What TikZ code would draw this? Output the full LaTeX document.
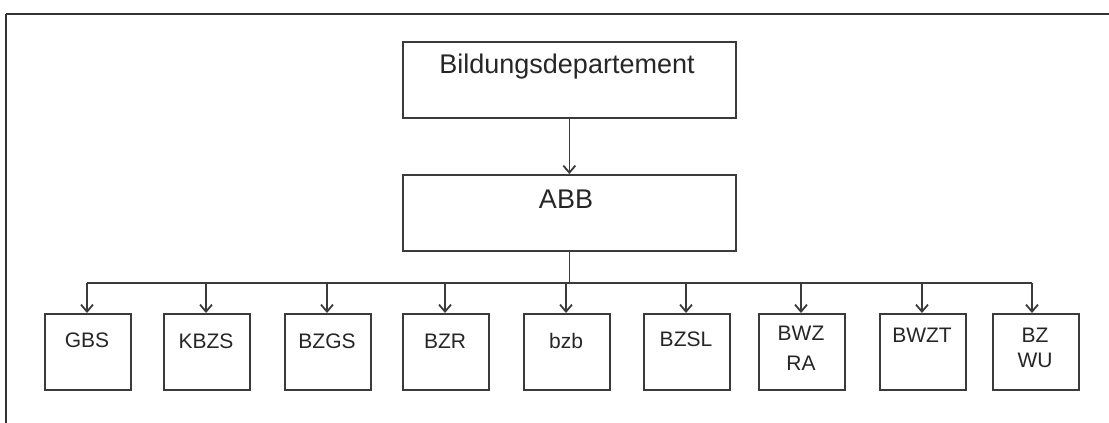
\documentclass[tikz,border=0pt]{standalone}
\usepackage{fontspec}
\setmainfont{Liberation Sans}
\usetikzlibrary{arrows.meta}
\definecolor{ink}{HTML}{3A3A3A}
\begin{document}
\begin{tikzpicture}[x=1pt,y=-1pt,
  box/.style={draw=ink,line width=1.7pt,inner sep=0pt,anchor=north west},
  bigbox/.style={box,minimum width=333pt,minimum height=76pt},
  smallbox/.style={box,minimum width=86pt,minimum height=76pt},
  conn/.style={draw=ink,line width=1.7pt},
  arr/.style={conn,-{Straight Barb[length=7pt,width=12pt,line width=1.8pt]}},
  frameline/.style={draw=black!80,line width=2pt},
  lab/.style={font=\fontsize{21}{30}\selectfont,anchor=base,inner sep=0pt,text=black!85}]
\useasboundingbox (0,0) rectangle (1109,423);
% frame (top and left edges)
\draw[frameline] (6,14) -- (1109,14);
\draw[frameline] (6,14) -- (6,423);
% top boxes
\node[bigbox] (dep) at (402,41) {};
\node[lab,font=\fontsize{27}{30}\selectfont] (deplabel) at (567,73) {Bildungsdepartement};
\node[bigbox] (abb) at (402,174) {};
\node[lab,font=\fontsize{27}{30}\selectfont] (abblabel) at (566,208) {ABB};
\draw[arr] (dep.south) -- (abb.north);
% bottom boxes
\node[smallbox] (gbs) at (44,313) {};
\node[smallbox] (kbzs) at (163,313) {};
\node[smallbox] (bzgs) at (284,313) {};
\node[smallbox] (bzr) at (402,313) {};
\node[smallbox] (bzb) at (523,313) {};
\node[smallbox] (bzsl) at (643,313) {};
\node[smallbox] (bwzra) at (758,313) {};
\node[smallbox] (bwzt) at (879,313) {};
\node[smallbox] (bzwu) at (992,313) {};
\node[lab] (gbsl) at (87,347) {GBS};
\node[lab] (kbzsl) at (206,348) {KBZS};
\node[lab] (bzgsl) at (327,348) {BZGS};
\node[lab] (bzrl) at (445,348) {BZR};
\node[lab] (bzbl) at (566,348) {bzb};
\node[lab] (bzsll) at (686,346) {BZSL};
\node[lab] (bwzl) at (801,340) {BWZ};
\node[lab] (ral) at (801,370) {RA};
\node[lab] (bwztl) at (922,342) {BWZT};
\node[lab] (bzl) at (1035,342) {BZ};
\node[lab] (wul) at (1035,367) {WU};
% bus
\coordinate (busL) at (87,283);
\coordinate (busR) at (1032,283);
\draw[conn] (abb.south) -- (abb.south |- busL);
\draw[conn] (busL) -- (busR);
\foreach \xx in {87,206,327,445,566,686,801,922,1032}{
  \draw[arr] (\xx,283) -- (\xx,313);
}
\end{tikzpicture}
\end{document}
